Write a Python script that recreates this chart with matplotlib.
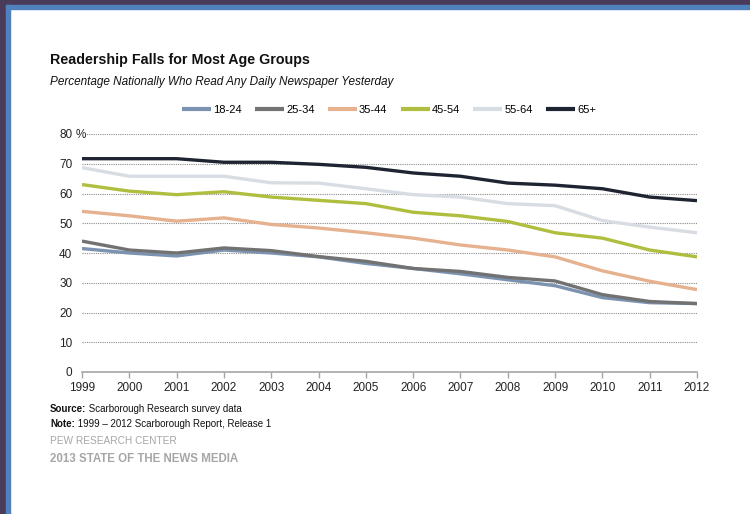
import matplotlib
matplotlib.use("Agg")
import matplotlib.pyplot as plt
from matplotlib.patches import Rectangle

plt.rcParams['font.family'] = ['Liberation Sans', 'DejaVu Sans']

years = list(range(1999, 2013))
s18_24 = [41.5, 40, 39, 41, 40, 38.7, 36.5, 34.8, 33, 31, 29, 25, 23.3, 23]
s25_34 = [44, 41, 40, 41.7, 40.8, 38.8, 37.2, 34.8, 33.8, 31.8, 30.6, 26, 23.7, 23]
s35_44 = [54, 52.5, 50.7, 51.8, 49.6, 48.4, 46.8, 45, 42.7, 41, 38.7, 34, 30.5, 27.7]
s45_54 = [63, 60.8, 59.6, 60.6, 58.8, 57.7, 56.6, 53.7, 52.5, 50.6, 46.8, 45, 41, 38.7]
s55_64 = [68.7, 65.8, 65.8, 65.8, 63.6, 63.5, 61.6, 59.6, 58.8, 56.6, 55.9, 50.9, 48.7, 46.8]
s65 = [71.7, 71.7, 71.7, 70.5, 70.5, 69.8, 68.8, 66.9, 65.8, 63.5, 62.8, 61.6, 58.8, 57.6]

series = [
    ("18-24", s18_24, "#7b93b0"),
    ("25-34", s25_34, "#727272"),
    ("35-44", s35_44, "#e6b18f"),
    ("45-54", s45_54, "#b0be3f"),
    ("55-64", s55_64, "#d8dce3"),
    ("65+", s65, "#1e2431"),
]
yticks = [0, 10, 20, 30, 40, 50, 60, 70, 80]

fig = plt.figure(figsize=(7.5, 5.14), dpi=100)
fig.patch.set_facecolor("white")

W, H = 750, 514
def px_rect(x, y, w, h, color):
    fig.patches.append(Rectangle((x / W, 1 - (y + h) / H), w / W, h / H,
                                 transform=fig.transFigure, color=color, zorder=0))
px_rect(0, 0, 750, 5, "#4a3b5a")
px_rect(0, 0, 6, 514, "#4a3b5a")
px_rect(6, 5, 744, 4, "#4f81bd")
px_rect(6, 5, 4, 509, "#4f81bd")

ax = fig.add_axes([82 / W, 1 - 372 / H, (697 - 82) / W, (372 - 134) / H])
for label, vals, color in series:
    ax.plot(years, vals, color=color, lw=2.4, label=label, solid_capstyle='butt', zorder=3)

ax.set_xlim(1999, 2012)
ax.set_ylim(0, 80)
ax.set_xticks(years)
ax.set_xticklabels([str(y) for y in years], fontsize=8.5, color="#222222")
ax.set_yticks(yticks)
ax.set_yticklabels([str(t) for t in yticks], fontsize=8.5, color="#222222")
ax.tick_params(axis='y', length=0, pad=7)
ax.tick_params(axis='x', length=4, color="#a6a6a6", width=1, pad=3, direction='out')
for sp in ['top', 'right', 'left']:
    ax.spines[sp].set_visible(False)
ax.spines['bottom'].set_color("#a6a6a6")
ax.spines['bottom'].set_linewidth(1.2)
ax.yaxis.grid(True, linestyle=(0, (1, 1)), color="#8c8c8c", lw=0.8)
ax.set_axisbelow(True)
ax.text(-0.011, 80, "%", transform=ax.get_yaxis_transform(), fontsize=8.5,
        color="#222222", ha='left', va='center_baseline',
        bbox=dict(facecolor='white', edgecolor='none', pad=0.5), zorder=4)

leg = fig.legend(loc='center', bbox_to_anchor=(389 / W, 1 - 110 / H), ncol=6,
                 frameon=False, fontsize=8, handlelength=2.6, handletextpad=0.2,
                 columnspacing=1.2)
for h in leg.get_lines():
    h.set_linewidth(3)

fig.text(50 / W, 1 - 60 / H, "Readership Falls for Most Age Groups", fontsize=10.3,
         fontweight='bold', color="#111111", va='center')
fig.text(50 / W, 1 - 82 / H, "Percentage Nationally Who Read Any Daily Newspaper Yesterday",
         fontsize=8.45, style='italic', color="#111111", va='center')

fig.canvas.draw()
r = fig.canvas.get_renderer()

def two_part(x, y, bold, rest, size):
    t = fig.text(x / W, 1 - y / H, bold, fontsize=size, fontweight='bold',
                 color="#111111", va='center')
    bb = t.get_window_extent(renderer=r)
    fig.text(bb.x1 / fig.bbox.width, 1 - y / H, rest, fontsize=size,
             color="#111111", va='center')

two_part(50, 409, "Source:", " Scarborough Research survey data", 7)
two_part(50, 424, "Note:", " 1999 \u2013 2012 Scarborough Report, Release 1", 7)
fig.text(50 / W, 1 - 441 / H, "PEW RESEARCH CENTER", fontsize=7.3, color="#a6a6a6", va='center')
fig.text(50 / W, 1 - 459 / H, "2013 STATE OF THE NEWS MEDIA", fontsize=8.3, fontweight='bold',
         color="#a6a6a6", va='center')

fig.savefig("out.png", dpi=100, facecolor="white")
